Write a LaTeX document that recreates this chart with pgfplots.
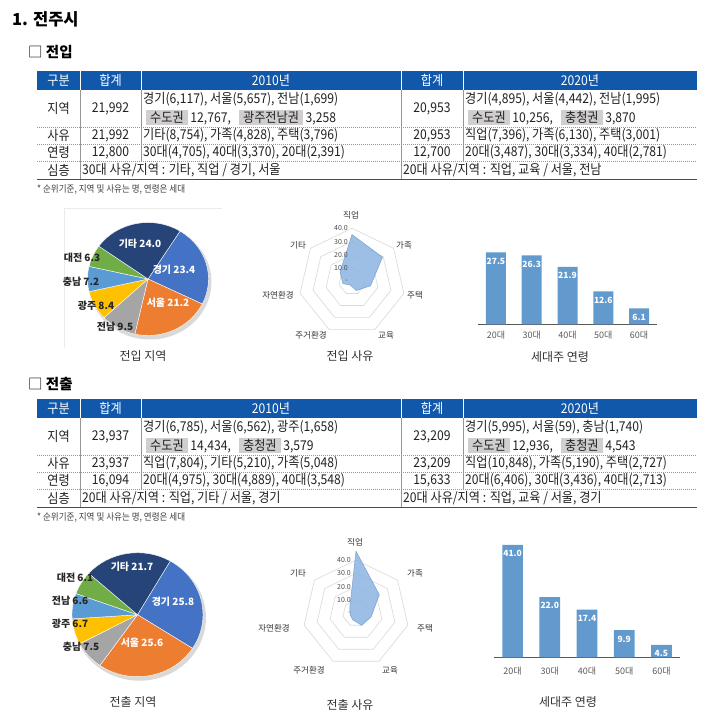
\documentclass[border=0pt]{standalone}
\usepackage{pgfplots}
\pgfplotsset{compat=1.18}
\usepackage{fontspec}
\setmainfont{Noto Sans CJK KR}
\newfontfamily\tb[FakeStretch=0.9]{Noto Sans CJK KR}

\definecolor{hdr}{RGB}{17,87,170}
\definecolor{hlgray}{RGB}{208,206,206}
\definecolor{gridgray}{RGB}{150,150,150}
\definecolor{txt}{RGB}{34,34,34}
\definecolor{labgray}{RGB}{89,89,89}
\definecolor{ringgray}{RGB}{217,217,217}
\definecolor{barblue}{RGB}{98,154,206}
\definecolor{radarfill}{RGB}{141,180,226}
\definecolor{radaredge}{RGB}{120,160,212}
\definecolor{pBlue}{RGB}{68,114,196}
\definecolor{pOrange}{RGB}{237,125,49}
\definecolor{pGray}{RGB}{165,165,165}
\definecolor{pGold}{RGB}{255,192,0}
\definecolor{pLBlue}{RGB}{91,155,213}
\definecolor{pGreen}{RGB}{112,173,71}
\definecolor{pNavy}{RGB}{38,68,120}

\newcommand{\tf}{\tb\fontsize{13.5}{15}\selectfont}
\setlength{\fboxsep}{1.5pt}
\newcommand{\hl}[1]{\colorbox{hlgray}{\hspace{2.5pt}#1\hspace{2.5pt}}}

% table frame, #1 = vertical shift
\newcommand{\tgrid}[1]{%
\begin{scope}[yshift=#1]
  \fill[hdr] (37,-71) rectangle (697,-90);
  \draw[white, line width=0.6pt] (80,-71) -- (80,-90) (141,-71) -- (141,-90)
       (401,-71) -- (401,-90) (463,-71) -- (463,-90);
  \draw[gridgray, line width=0.5pt] (80,-90) -- (80,-179) (141,-90) -- (141,-161)
       (401,-90) -- (401,-179) (463,-90) -- (463,-161);
  \draw[gridgray, line width=0.6pt, dash pattern=on 1.2pt off 0.8pt]
       (37,-127) -- (697,-127) (37,-144) -- (697,-144) (37,-161) -- (697,-161);
  \draw[black!70, line width=0.9pt] (37,-179) -- (697,-179);
  \begin{scope}[every node/.style={inner sep=0pt, text=white, font=\tf}]
    \node at (58.5,-80.5) {구분};
    \node at (110.5,-80.5) {합계};
    \node at (271,-80.5) {2010년};
    \node at (432,-80.5) {합계};
    \node at (580,-80.5) {2020년};
  \end{scope}
  \begin{scope}[every node/.style={inner sep=0pt, text=txt, font=\tf}]
    \node at (58.5,-108.5) {지역};
    \node at (58.5,-135.5) {사유};
    \node at (58.5,-152.5) {연령};
    \node at (58.5,-170) {심층};
  \end{scope}
  \node[inner sep=0pt, anchor=west, text=black!75, font=\tb\fontsize{9.5}{11}\selectfont] at (37,-189) {* 순위기준, 지역 및 사유는 명, 연령은 세대};
\end{scope}}

% pie: cx, cy, rx, ry, start angle, list value/colour
\newcommand{\pie}[6]{%
  \fill[black, opacity=0.15] (#1+2,#2-3) ellipse[x radius=#3+1, y radius=#4+1];
  \xdef\acc{#5}
  \foreach \v/\c in {#6}{
    \pgfmathsetmacro\aend{\acc-3.6*\v}
    \fill[\c, draw=white, line width=0.4pt] (#1,#2) -- ++(\acc:#3pt and #4pt)
      arc[start angle=\acc, end angle=\aend, x radius=#3pt, y radius=#4pt] -- cycle;
    \xdef\acc{\aend}
  }}

\newcommand{\rings}{%
  \pgfplotsinvokeforeach{10,20,30,40}{
    \addplot[ringgray, line width=0.6pt, data cs=polar] coordinates
      {(90,##1) (38.571,##1) (-12.857,##1) (-64.286,##1) (-115.714,##1) (-167.143,##1) (141.429,##1) (90,##1)};
  }}

\pgfplotsset{
  radarax/.style={anchor=center, scale only axis, width=133pt, height=133pt,
    xmin=-50, xmax=50, ymin=-50, ymax=50, hide axis, clip=false},
  barax/.style={anchor=south west, scale only axis, xmin=-0.5, xmax=4.5, ymin=0,
    ybar, axis x line=bottom, axis y line=none,
    x axis line style={-, draw=black!65, line width=1pt},
    xtick={0,...,4}, xticklabels={20대,30대,40대,50대,60대}, major tick length=0pt,
    xticklabel style={font=\fontsize{9}{10}\selectfont, text=labgray},
    nodes near coords, point meta=explicit symbolic,
    every node near coord/.append style={anchor=north, text=white,
      font=\bfseries\fontsize{8.5}{9}\selectfont, yshift=-2pt},
    clip=false},
}

\begin{document}
\begin{tikzpicture}[x=1pt, y=1pt]
\path[use as bounding box, fill=white] (0,0) rectangle (720,-722);

\node[anchor=west, inner sep=0pt, text=black] at (12,-19) {\fontsize{16.5}{18}\selectfont\bfseries 1. 전주시};

% ---------------- 전입 ----------------
\node[anchor=west, inner sep=0pt, text=black] at (28,-52) {\fontsize{14.5}{16}\selectfont □ \bfseries 전입};
\tgrid{0pt}
\begin{scope}[every node/.style={inner sep=0pt, text=txt, font=\tf}]
  \node at (110.5,-108.5) {21,992};
  \node at (110.5,-135.5) {21,992};
  \node at (110.5,-152.5) {12,800};
  \node at (432,-108.5) {20,953};
  \node at (432,-135.5) {20,953};
  \node at (432,-152.5) {12,700};
  \node[anchor=west] at (143,-99.5) {경기(6,117), 서울(5,657), 전남(1,699)};
  \node[anchor=west] at (146,-117.5) {\hl{수도권} 12,767,\ \ \ \hl{광주전남권} 3,258};
  \node[anchor=west] at (143,-135.5) {기타(8,754), 가족(4,828), 주택(3,796)};
  \node[anchor=west] at (143,-152.5) {30대(4,705), 40대(3,370), 20대(2,391)};
  \node[anchor=west] at (82,-170) {30대 사유/지역 : 기타, 직업 / 경기, 서울};
  \node[anchor=west] at (465,-99.5) {경기(4,895), 서울(4,442), 전남(1,995)};
  \node[anchor=west] at (468,-117.5) {\hl{수도권} 10,256,\ \ \ \hl{충청권} 3,870};
  \node[anchor=west] at (465,-135.5) {직업(7,396), 가족(6,130), 주택(3,001)};
  \node[anchor=west] at (465,-152.5) {20대(3,487), 30대(3,334), 40대(2,781)};
  \node[anchor=west] at (403,-170) {20대 사유/지역 : 직업, 교육 / 서울, 전남};
\end{scope}

% pie 1
\draw[black!8, line width=0.6pt] (64,-348) -- (64,-208) -- (222,-208);
\pie{148}{-279}{60.5}{56.5}{58}{23.4/pBlue, 21.2/pOrange, 9.5/pGray, 8.4/pGold, 7.2/pLBlue, 6.3/pGreen, 24.0/pNavy}
\begin{scope}[every node/.style={inner sep=0pt, font=\bfseries\fontsize{10}{11}\selectfont}]
  \node[text=white] at (140,-244) {기타 24.0};
  \node[text=white] at (174,-270) {경기 23.4};
  \node[text=white] at (168,-303) {서울 21.2};
  \node[text=black!85] at (115,-327) {전남 9.5};
  \node[text=black!85] at (96,-306) {광주 8.4};
  \node[text=black!85] at (81,-281.5) {충남 7.2};
  \node[text=black!85] at (82,-257.5) {대전 6.3};
\end{scope}
\node[inner sep=0pt, text=black!80, font=\fontsize{12}{14}\selectfont] at (143,-356) {전입 지역};

% radar 1
\begin{axis}[radarax, at={(352pt,-281.5pt)}]
  \rings
  \addplot[fill=radarfill, fill opacity=0.85, draw=radaredge, line width=0.5pt, data cs=polar] coordinates
    {(90,35.3) (38.571,29.3) (-12.857,14.3) (-64.286,7.5) (-115.714,3.0) (-167.143,7.0) (141.429,11.5) (90,35.3)};
\end{axis}
\begin{scope}[every node/.style={inner sep=0pt, text=black!70, font=\fontsize{7}{8}\selectfont, anchor=east}]
  \node at (348,-228.3) {40.0};
  \node at (348,-241.6) {30.0};
  \node at (348,-254.9) {20.0};
  \node at (348,-268.2) {10.0};
  \node at (348,-281.5) {-};
\end{scope}
\begin{scope}[every node/.style={inner sep=0pt, text=black!80, font=\fontsize{8.5}{9}\selectfont}]
  \node at (351,-215) {직업};
  \node at (404,-245) {가족};
  \node at (415,-295) {주택};
  \node at (386,-335) {교육};
  \node at (311,-335) {주거환경};
  \node at (278,-295) {자연환경};
  \node at (298,-245) {기타};
\end{scope}
\node[inner sep=0pt, text=black!80, font=\fontsize{12}{14}\selectfont] at (350,-356) {전입 사유};

% bars 1
\begin{axis}[barax, at={(478pt,-324.3pt)}, width=179pt, height=78.6pt, ymax=30, bar width=20pt,
    xticklabel style={yshift=-3pt}]
  \addplot[fill=barblue, draw=none] coordinates
    {(0,27.5)[27.5] (1,26.3)[26.3] (2,21.9)[21.9] (3,12.6)[12.6] (4,6.1)[6.1]};
\end{axis}
\node[inner sep=0pt, text=black!80, font=\fontsize{12}{14}\selectfont] at (560,-357) {세대주 연령};

% ---------------- 전출 ----------------
\node[anchor=west, inner sep=0pt, text=black] at (28,-384) {\fontsize{14.5}{16}\selectfont □ \bfseries 전출};
\tgrid{-328pt}
\begin{scope}[yshift=-328pt, every node/.style={inner sep=0pt, text=txt, font=\tf}]
  \node at (110.5,-108.5) {23,937};
  \node at (110.5,-135.5) {23,937};
  \node at (110.5,-152.5) {16,094};
  \node at (432,-108.5) {23,209};
  \node at (432,-135.5) {23,209};
  \node at (432,-152.5) {15,633};
  \node[anchor=west] at (143,-99.5) {경기(6,785), 서울(6,562), 광주(1,658)};
  \node[anchor=west] at (146,-117.5) {\hl{수도권} 14,434,\ \ \ \hl{충청권} 3,579};
  \node[anchor=west] at (143,-135.5) {직업(7,804), 기타(5,210), 가족(5,048)};
  \node[anchor=west] at (143,-152.5) {20대(4,975), 30대(4,889), 40대(3,548)};
  \node[anchor=west] at (82,-170) {20대 사유/지역 : 직업, 기타 / 서울, 경기};
  \node[anchor=west] at (465,-99.5) {경기(5,995), 서울(59), 충남(1,740)};
  \node[anchor=west] at (468,-117.5) {\hl{수도권} 12,936,\ \ \ \hl{충청권} 4,543};
  \node[anchor=west] at (465,-135.5) {직업(10,848), 가족(5,190), 주택(2,727)};
  \node[anchor=west] at (465,-152.5) {20대(6,406), 30대(3,436), 40대(2,713)};
  \node[anchor=west] at (403,-170) {20대 사유/지역 : 직업, 교육 / 서울, 경기};
\end{scope}

% pie 2
\pie{137.5}{-614.7}{65.5}{62}{60}{25.8/pBlue, 25.6/pOrange, 7.5/pGray, 6.7/pGold, 6.6/pLBlue, 6.1/pGreen, 21.7/pNavy}
\begin{scope}[every node/.style={inner sep=0pt, font=\bfseries\fontsize{10}{11}\selectfont}]
  \node[text=white] at (132,-567) {기타 21.7};
  \node[text=white] at (173,-602) {경기 25.8};
  \node[text=white] at (142,-643) {서울 25.6};
  \node[text=black!85] at (81,-647) {충남 7.5};
  \node[text=black!85] at (70,-624) {광주 6.7};
  \node[text=black!85] at (70,-601) {전남 6.6};
  \node[text=black!85] at (75,-578) {대전 6.1};
\end{scope}
\node[inner sep=0pt, text=black!80, font=\fontsize{12}{14}\selectfont] at (133,-702) {전출 지역};

% radar 2
\begin{axis}[radarax, at={(356pt,-613.3pt)}]
  \rings
  \addplot[fill=radarfill, fill opacity=0.85, draw=radaredge, line width=0.5pt, data cs=polar] coordinates
    {(90,46.7) (38.571,22.4) (-12.857,11.7) (-64.286,10.0) (-115.714,5.5) (-167.143,4.5) (141.429,6.0) (90,46.7)};
\end{axis}
\begin{scope}[every node/.style={inner sep=0pt, text=black!70, font=\fontsize{7}{8}\selectfont, anchor=east}]
  \node at (351,-560.1) {40.0};
  \node at (351,-573.4) {30.0};
  \node at (351,-586.7) {20.0};
  \node at (351,-600.0) {10.0};
  \node at (351,-613.3) {-};
\end{scope}
\begin{scope}[every node/.style={inner sep=0pt, text=black!80, font=\fontsize{8.5}{9}\selectfont}]
  \node at (355,-542) {직업};
  \node at (415,-573) {가족};
  \node at (425,-628) {주택};
  \node at (390,-670) {교육};
  \node at (309,-670) {주거환경};
  \node at (274,-628) {자연환경};
  \node at (298,-573) {기타};
\end{scope}
\node[inner sep=0pt, text=black!80, font=\fontsize{12}{14}\selectfont] at (350,-705) {전출 사유};

% bars 2
\begin{axis}[barax, at={(494pt,-657.3pt)}, width=186pt, height=123.3pt, ymax=45, bar width=20.7pt,
    xticklabel style={yshift=-6pt}]
  \addplot[fill=barblue, draw=none] coordinates
    {(0,41.0)[41.0] (1,22.0)[22.0] (2,17.4)[17.4] (3,9.9)[9.9] (4,4.5)[4.5]};
\end{axis}
\node[inner sep=0pt, text=black!80, font=\fontsize{12}{14}\selectfont] at (568,-702) {세대주 연령};
\end{tikzpicture}
\end{document}
